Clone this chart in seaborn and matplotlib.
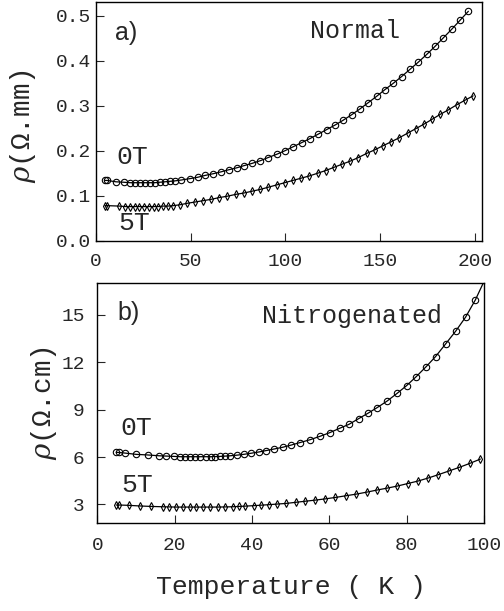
import matplotlib
matplotlib.use("Agg")
import matplotlib.pyplot as plt
import seaborn as sns

# ---- panel a) Normal : resistivity (Ohm.mm) vs T (K)
t_a_0T = [4.8, 6.0, 10.6, 14.8, 17.9, 20.6, 23.2, 25.9, 28.5, 31.1, 33.8, 36.4,
          39.1, 41.7, 45.2, 49.6, 53.7, 57.5, 62.0, 66.0, 70.4, 74.3, 78.3, 82.5,
          86.9, 91.0, 95.4, 99.8, 104.2, 108.6, 113.0, 117.4, 121.8, 126.2, 130.6,
          135.0, 139.4, 143.8, 148.2, 152.6, 157.0, 161.4, 165.8, 170.2, 174.6,
          179.0, 183.4, 187.8, 192.2, 196.6]
rho_a_0T = [0.134, 0.134, 0.131, 0.130, 0.129, 0.129, 0.129, 0.129, 0.129, 0.129,
            0.130, 0.131, 0.132, 0.133, 0.135, 0.138, 0.141, 0.145, 0.149, 0.153,
            0.158, 0.162, 0.167, 0.172, 0.178, 0.185, 0.192, 0.200, 0.209, 0.218,
            0.227, 0.237, 0.247, 0.257, 0.268, 0.280, 0.293, 0.307, 0.321, 0.336,
            0.350, 0.365, 0.381, 0.397, 0.414, 0.432, 0.451, 0.470, 0.490, 0.510]

t_a_5T = [4.8, 6.0, 12.5, 15.5, 18.0, 20.5, 23.0, 25.5, 28.0, 30.5, 33.0, 35.5,
          38.0, 41.0, 44.5, 48.0, 52.3, 56.6, 60.9, 65.2, 69.5, 73.8, 78.1, 82.4,
          86.7, 91.1, 95.4, 99.7, 104.0, 108.3, 112.7, 117.0, 121.3, 125.6, 129.9,
          134.3, 138.6, 142.9, 147.2, 151.5, 155.9, 160.2, 164.5, 168.8, 173.1,
          177.5, 181.8, 186.1, 190.4, 194.7, 199.1]
rho_a_5T = [0.078, 0.078, 0.077, 0.076, 0.076, 0.076, 0.076, 0.076, 0.076, 0.076,
            0.076, 0.077, 0.077, 0.078, 0.080, 0.083, 0.086, 0.089, 0.092, 0.096,
            0.099, 0.103, 0.106, 0.110, 0.114, 0.119, 0.124, 0.129, 0.134, 0.139,
            0.144, 0.150, 0.156, 0.163, 0.170, 0.177, 0.185, 0.194, 0.202, 0.211,
            0.220, 0.229, 0.239, 0.249, 0.259, 0.270, 0.281, 0.291, 0.302, 0.312,
            0.322]

# ---- panel b) Nitrogenated : resistivity (Ohm.cm) vs T (K)
t_b_0T = [4.9, 5.5, 7.2, 10.0, 13.1, 15.9, 17.9, 19.8, 21.5, 22.8, 24.1, 25.4,
          26.7, 28.0, 29.3, 30.5, 31.8, 33.1, 34.4, 36.2, 37.9, 39.8, 41.8, 43.7,
          45.8, 48.0, 50.2, 52.5, 55.1, 57.7, 60.1, 62.7, 65.1, 67.6, 70.0, 72.4,
          75.0, 77.6, 80.0, 82.5, 85.1, 87.5, 90.1, 92.8, 95.3, 97.8]
rho_b_0T = [6.30, 6.29, 6.25, 6.17, 6.13, 6.08, 6.06, 6.04, 6.02, 6.02, 6.02, 6.02,
            6.02, 6.02, 6.02, 6.03, 6.04, 6.06, 6.08, 6.12, 6.17, 6.24, 6.32, 6.41,
            6.51, 6.62, 6.76, 6.92, 7.10, 7.32, 7.54, 7.82, 8.07, 8.43, 8.77, 9.13,
            9.55, 10.04, 10.52, 11.09, 11.73, 12.36, 13.16, 14.00, 14.87, 15.95]
# fitted curve leaves the frame at the top right corner
t_b_0T_end = 100.0
rho_b_0T_end = 17.1

t_b_5T = [4.9, 5.6, 8.1, 11.0, 14.0, 16.9, 18.6, 20.4, 22.2, 23.9, 25.6, 27.3,
          29.1, 31.2, 33.1, 35.0, 36.6, 38.3, 40.5, 42.4, 44.3, 46.5, 48.8, 51.3,
          53.8, 56.4, 59.0, 61.6, 64.4, 67.0, 69.8, 72.4, 75.0, 77.6, 80.3, 83.0,
          85.6, 88.2, 90.9, 93.7, 96.4, 99.1]
rho_b_5T = [2.96, 2.96, 2.94, 2.90, 2.87, 2.85, 2.84, 2.83, 2.83, 2.83, 2.83, 2.83,
            2.83, 2.83, 2.84, 2.85, 2.87, 2.89, 2.92, 2.95, 2.98, 3.02, 3.06, 3.13,
            3.20, 3.27, 3.35, 3.44, 3.55, 3.65, 3.78, 3.91, 4.03, 4.16, 4.32, 4.48,
            4.67, 4.88, 5.11, 5.35, 5.60, 5.87]

sns.set_style("ticks")
plt.rcParams['font.family'] = ['Liberation Mono', 'DejaVu Sans']
plt.rcParams['mathtext.fontset'] = 'dejavuserif'

fig = plt.figure(figsize=(5.04, 6.11), dpi=100)
ax1 = fig.add_axes([0.190, 0.606, 0.766, 0.391])
ax2 = fig.add_axes([0.193, 0.144, 0.767, 0.393])


def curve(ax, x, y, marker, ms, line_x=None, line_y=None):
    lx = x if line_x is None else line_x
    ly = y if line_y is None else line_y
    sns.lineplot(x=lx, y=ly, ax=ax, color='black', lw=0.9, sort=False,
                 estimator=None)
    sns.lineplot(x=x, y=y, ax=ax, color='black', lw=0, marker=marker, ms=ms,
                 mfc='none', mec='black', mew=0.8, sort=False, estimator=None)


curve(ax1, t_a_0T, rho_a_0T, 'o', 4.6)
curve(ax1, t_a_5T, rho_a_5T, 'd', 4.2)
curve(ax2, t_b_0T, rho_b_0T, 'o', 4.6,
      t_b_0T + [t_b_0T_end], rho_b_0T + [rho_b_0T_end])
curve(ax2, t_b_5T, rho_b_5T, 'd', 4.2)

ax1.set_xlim(0, 203.7)
ax1.set_ylim(0, 0.531)
ax1.set_xticks([0, 50, 100, 150, 200])
ax1.set_yticks([0.0, 0.1, 0.2, 0.3, 0.4, 0.5])
ax1.set_yticklabels(['0.0', '0.1', '0.2', '0.3', '0.4', '0.5'])

ax2.set_xlim(0, 100)
ax2.set_ylim(1.82, 17.03)
ax2.set_xticks([0, 20, 40, 60, 80, 100])
ax2.set_yticks([3, 6, 9, 12, 15])

for ax in (ax1, ax2):
    ax.tick_params(direction='in', length=5.5, width=0.8, labelsize=14,
                   top=False, right=False)
    for s in ax.spines.values():
        s.set_linewidth(1.0)
        s.set_color('black')
ax1.tick_params(axis='x', pad=9)
ax1.tick_params(axis='y', pad=3)
ax2.tick_params(axis='x', pad=10)
ax2.tick_params(axis='y', pad=9)

ax1.set_xlabel('')
ax2.set_xlabel('Temperature ( K )', fontsize=19)
ax2.xaxis.set_label_coords(0.5, -0.215)
ax1.set_ylabel(r'$\rho$(Ω.mm)', fontsize=20)
ax1.yaxis.set_label_coords(-0.15, 0.48)
ax2.set_ylabel(r'$\rho$(Ω.cm)', fontsize=20)
ax2.yaxis.set_label_coords(-0.1, 0.5)

ax1.text(10, 0.462, 'a)', fontsize=18, family='Liberation Sans', va='center')
ax1.text(113, 0.467, 'Normal', fontsize=18, va='center')
ax1.text(11, 0.187, '0T', fontsize=19, va='center')
ax1.text(12, 0.040, '5T', fontsize=19, va='center')

ax2.text(5.2, 15.1, 'b)', fontsize=18, family='Liberation Sans', va='center')
ax2.text(42.5, 14.95, 'Nitrogenated', fontsize=18, va='center')
ax2.text(6, 7.83, '0T', fontsize=19, va='center')
ax2.text(6.2, 4.22, '5T', fontsize=19, va='center')

fig.savefig('out.png', dpi=100)
